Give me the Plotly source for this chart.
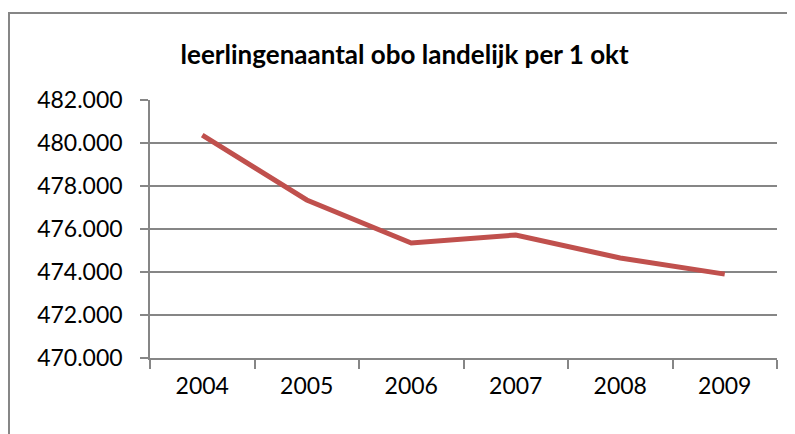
import plotly.graph_objects as go

# leerlingenaantal obo landelijk per 1 okt
jaren = ["2004", "2005", "2006", "2007", "2008", "2009"]
leerlingen = [480370, 477350, 475350, 475720, 474650, 473900]
y_ticks = [470000, 472000, 474000, 476000, 478000, 480000, 482000]

grid_col = "#868686"
line_col = "#C0504D"
font_name = "Lato"

fig = go.Figure()
fig.add_trace(go.Scatter(
    x=jaren,
    y=leerlingen,
    mode="lines",
    line=dict(color=line_col, width=5),
    showlegend=False,
))

# page body has an 8px margin, so the figure is a bit smaller than the window
fig.update_layout(
    width=787,
    height=426,
    margin=dict(l=142, r=18, t=92, b=76),
    paper_bgcolor="white",
    plot_bgcolor="white",
    separators=",.",
    font=dict(family=font_name, size=23, color="black"),
    title=dict(
        text="<b>leerlingenaantal obo landelijk per 1 okt</b>",
        x=0.504, xanchor="center",
        y=0.89, yanchor="middle",
        font=dict(family=font_name, size=26, color="black"),
    ),
)

fig.update_xaxes(
    type="category",
    range=[-0.5, 5.5],
    tickson="boundaries",
    ticks="outside",
    ticklen=9,
    tickwidth=1.5,
    tickcolor=grid_col,
    showline=True,
    linecolor=grid_col,
    linewidth=1.5,
    showgrid=False,
    ticklabelstandoff=7,
)

fig.update_yaxes(
    range=[470000, 482000],
    tickvals=y_ticks,
    tickformat=",.0f",
    ticks="outside",
    ticklen=8,
    tickwidth=1.5,
    tickcolor=grid_col,
    showline=True,
    linecolor=grid_col,
    linewidth=1.5,
    showgrid=True,
    gridcolor=grid_col,
    gridwidth=1.5,
    zeroline=False,
    ticklabelstandoff=13,
)

# chart area border (Excel style), cut off at right and bottom
fig.add_shape(
    type="rect", xref="paper", yref="paper",
    x0=-0.2249, x1=1.2, y0=-0.6, y1=1.337,
    line=dict(color=grid_col, width=2),
    layer="below",
)

fig.write_html("out.html")
